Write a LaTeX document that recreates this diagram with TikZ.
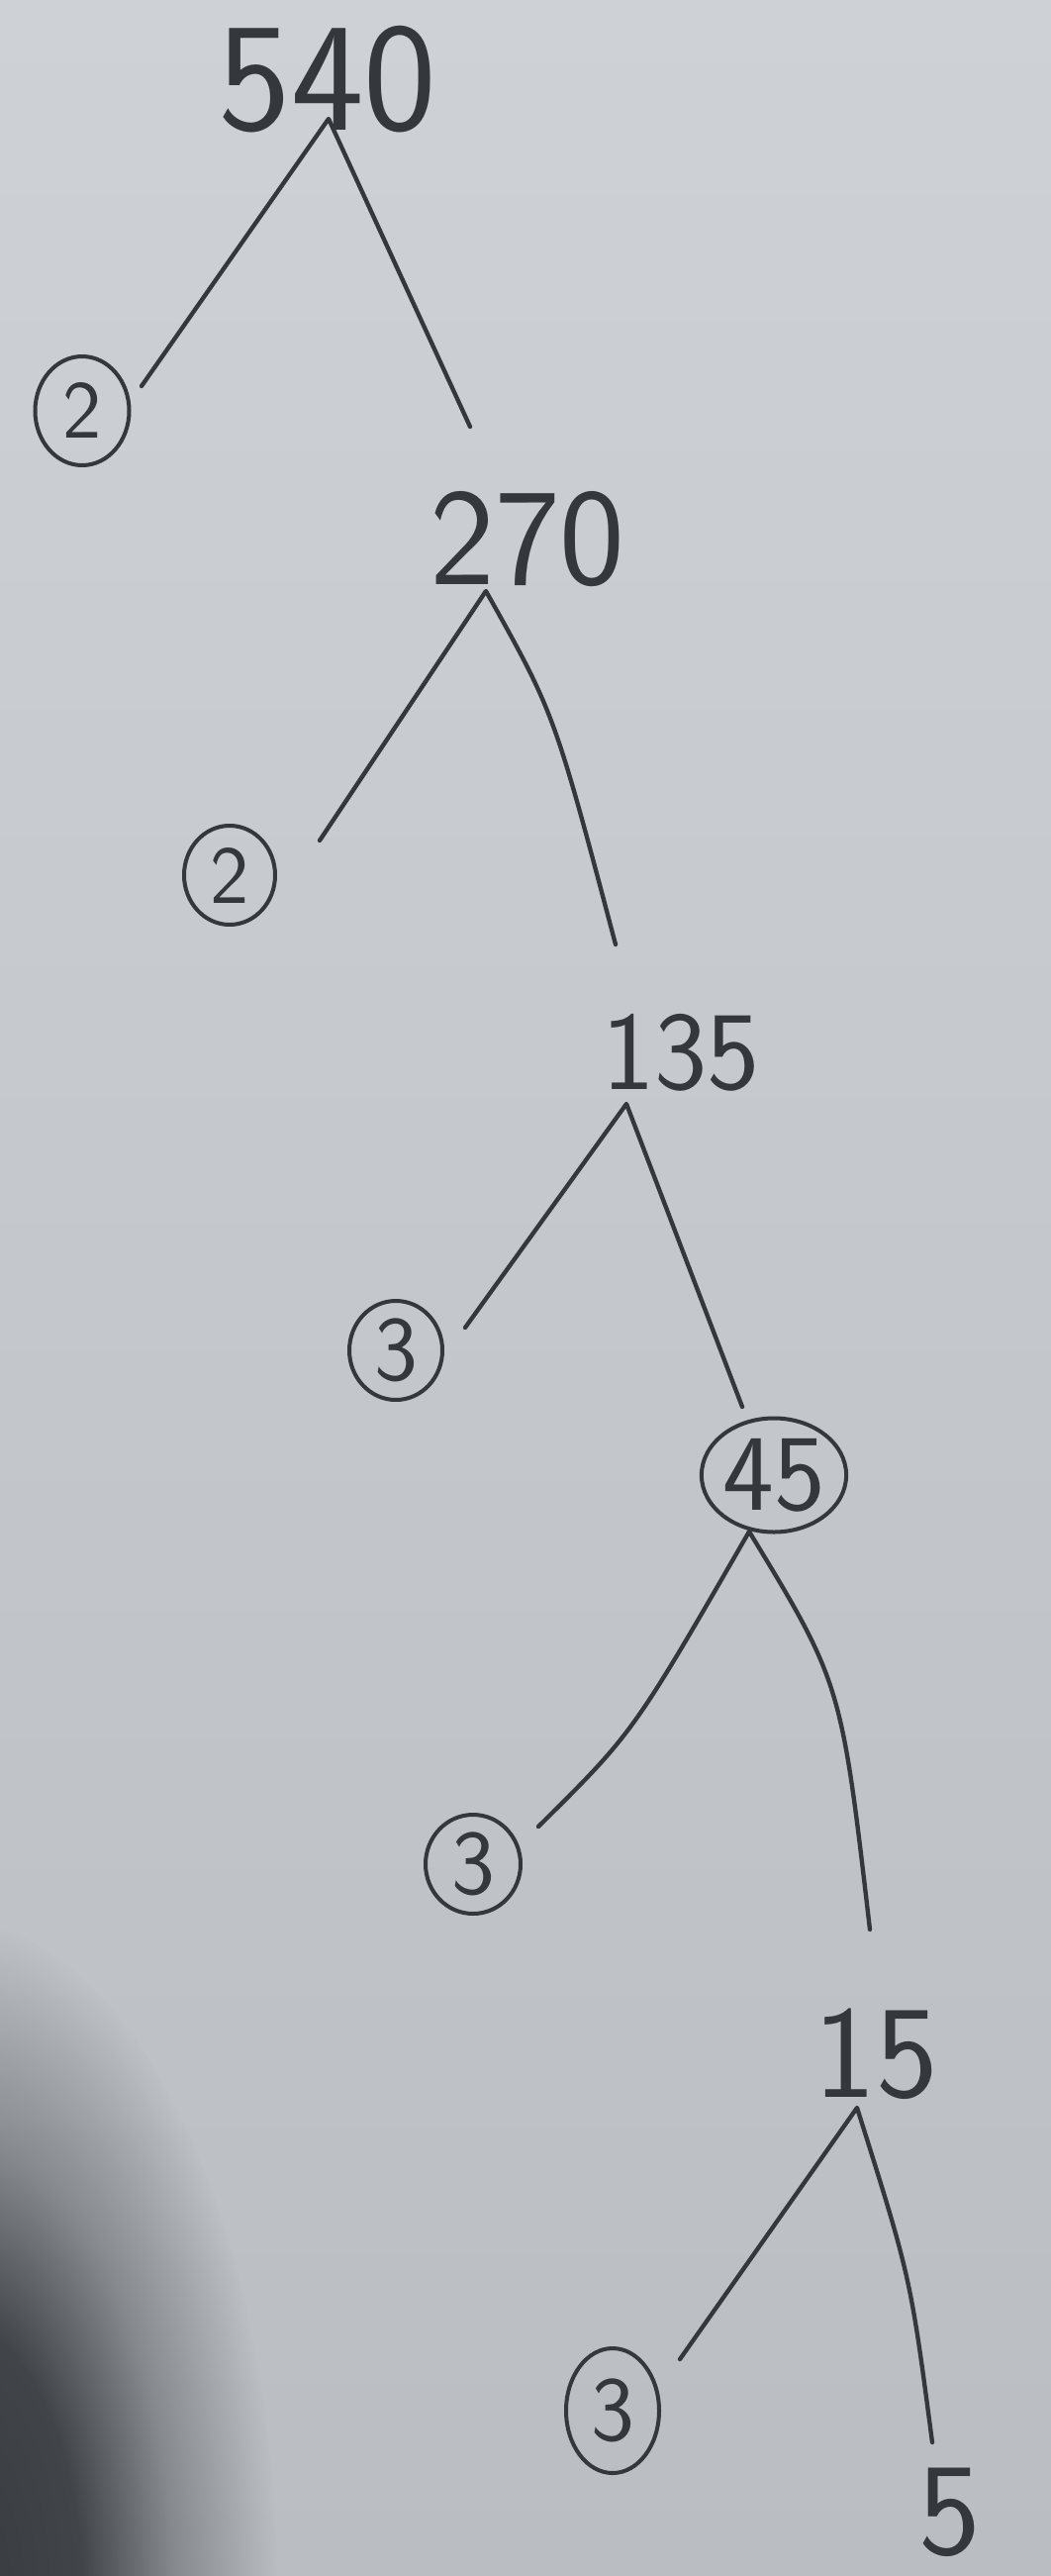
\documentclass[tikz,border=0pt]{standalone}
\usetikzlibrary{shapes.geometric,fadings}
\definecolor{inkc}{RGB}{52,55,60}
\definecolor{bgtop}{RGB}{206,209,213}
\definecolor{bgbot}{RGB}{186,190,195}
\definecolor{shadowc}{RGB}{55,58,62}
\pgfdeclareradialshading{shadefadeshade}{\pgfpointorigin}{%
  color(0bp)=(pgftransparent!0); color(10bp)=(pgftransparent!8);
  color(17bp)=(pgftransparent!60); color(25bp)=(pgftransparent!100);
  color(50bp)=(pgftransparent!100)}
\pgfdeclarefading{shadefade}{\pgfuseshading{shadefadeshade}}
\begin{document}
\begin{tikzpicture}[x=0.3pt,y=-0.3pt,
  ink/.style={draw=inkc, line width=1.3pt, line cap=round, line join=round},
  num/.style={text=inkc, font=\sffamily\fontsize{#1}{#1}\selectfont, inner sep=0pt},
  ring/.style={ellipse, draw=inkc, line width=1.2pt, inner sep=0pt}]
\useasboundingbox (0,0) rectangle (1062,2602);
\shade[top color=bgtop, bottom color=bgbot] (0,0) rectangle (1062,2602);
\begin{scope}
  \clip (0,0) rectangle (1062,2602);
  \fill[shadowc, path fading=shadefade] (-50,2620) ellipse [x radius=330, y radius=680];
\end{scope}

% numbers
\node[num=47] (n540) at (331,80) {540};
\node[num=42] (n270) at (533,545) {270};
\node[num=34] (n135) at (688,1063) {135};
\node[num=40] (n15) at (885,2075) {15};
\node[num=40] (n5) at (960,2538) {5};

% circled primes
\node[ring, num=25, minimum width=95*0.3pt, minimum height=110*0.3pt] (c1) at (83,415) {2};
\node[ring, num=25, minimum width=92*0.3pt, minimum height=100*0.3pt] (c2) at (232,884) {2};
\node[ring, num=28, minimum width=94*0.3pt, minimum height=100*0.3pt] (c3) at (400,1364) {3};
\node[ring, num=33, minimum width=138*0.3pt, minimum height=115*0.3pt] (c45) at (782,1490) {45};
\node[ring, num=28, minimum width=96*0.3pt, minimum height=100*0.3pt] (c4) at (478,1883) {3};
\node[ring, num=28, minimum width=94*0.3pt, minimum height=126*0.3pt] (c5) at (619,2435) {3};

% branch points
\coordinate (a1) at (332,120);
\coordinate (l1) at (143,390);
\coordinate (r1) at (475,431);
\coordinate (a2) at (491,597);
\coordinate (l2) at (323,849);
\coordinate (r2) at (622,954);
\coordinate (a3) at (633,1115);
\coordinate (l3) at (470,1341);
\coordinate (r3) at (750,1421);
\coordinate (a4) at (757,1547);
\coordinate (l4) at (544,1845);
\coordinate (r4) at (879,1949);
\coordinate (a5) at (866,2129);
\coordinate (l5) at (687,2383);
\coordinate (r5) at (942,2467);

\draw[ink] (l1) -- (a1) -- (r1);
\draw[ink] (l2) -- (a2) .. controls (560,720) .. (r2);
\draw[ink] (l3) -- (a3) -- (r3);
\draw[ink] (l4) .. controls (640,1750) .. (a4) .. controls (850,1700) .. (r4);
\draw[ink] (l5) -- (a5) .. controls (920,2300) .. (r5);
\end{tikzpicture}
\end{document}
